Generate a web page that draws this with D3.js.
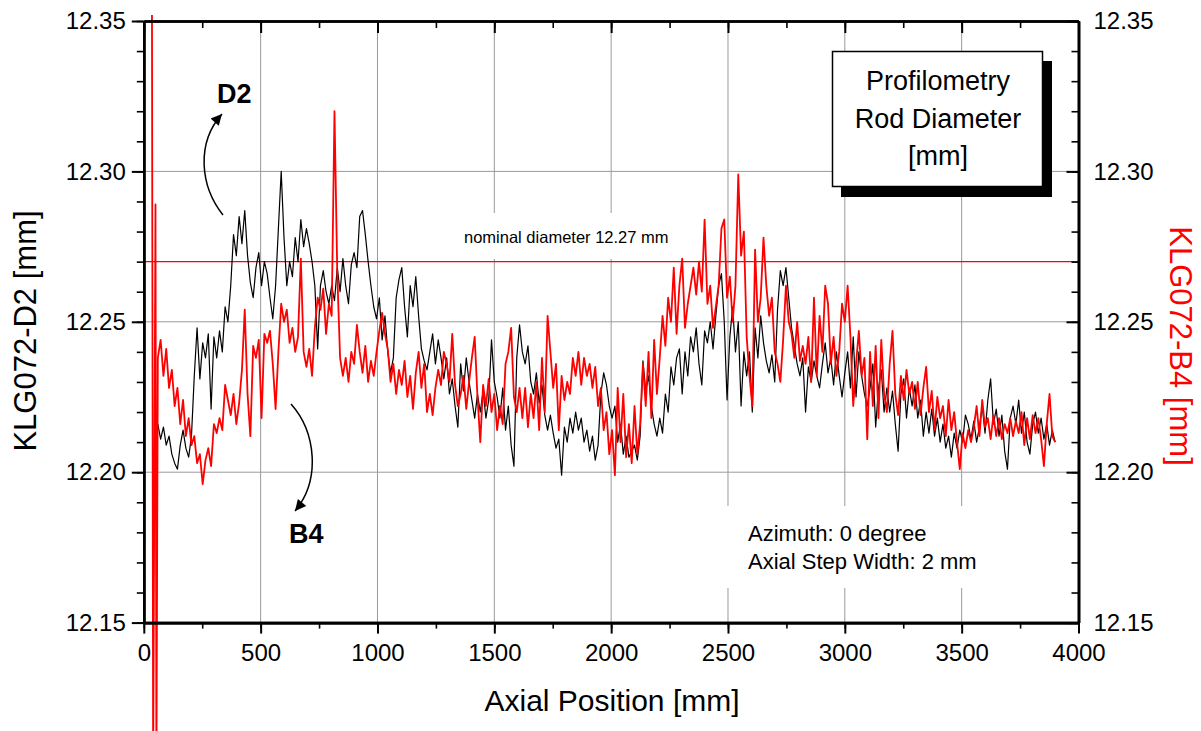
<!DOCTYPE html>
<html><head><meta charset="utf-8">
<script src="https://cdn.jsdelivr.net/npm/d3@7"></script>
<style>
body{margin:0;background:#fff}
svg{display:block}
text{font-family:"Liberation Sans",Arial,Helvetica,sans-serif}
</style>
</head><body>
<svg id="chart" width="1201" height="731"></svg>
<script>
// ---------- data ----------
const xTickValues = [0,500,1000,1500,2000,2500,3000,3500,4000];
const yTickValues = [12.15,12.20,12.25,12.30,12.35];
const nominalDiameter = 12.27;
const startMM = 60;      // first regular sample position
const stepMM = 12;       // sample spacing of the listed values
// KLG072-D2 (black)
const d2Values = [
12.216,12.211,12.215,12.209,12.212,12.206,12.203,12.201,12.209,12.214,
12.208,12.205,12.212,12.232,12.248,12.231,12.243,12.238,12.246,12.221,
12.245,12.238,12.247,12.240,12.255,12.250,12.262,12.279,12.272,12.285,
12.276,12.287,12.272,12.263,12.258,12.268,12.273,12.262,12.270,12.266,
12.258,12.251,12.262,12.281,12.300,12.278,12.262,12.270,12.265,12.278,
12.270,12.284,12.275,12.281,12.276,12.270,12.262,12.241,12.262,12.267,
12.260,12.256,12.262,12.257,12.268,12.260,12.271,12.262,12.256,12.269,
12.273,12.268,12.285,12.287,12.279,12.270,12.262,12.255,12.251,12.258,
12.244,12.252,12.240,12.233,12.238,12.258,12.264,12.268,12.255,12.245,
12.262,12.255,12.265,12.252,12.241,12.237,12.234,12.240,12.246,12.236,
12.244,12.238,12.231,12.238,12.226,12.231,12.222,12.215,12.236,12.227,
12.238,12.230,12.224,12.218,12.226,12.220,12.227,12.218,12.224,12.244,
12.230,12.225,12.218,12.228,12.214,12.222,12.209,12.202,12.238,12.249,
12.240,12.236,12.242,12.230,12.226,12.233,12.223,12.229,12.219,12.214,
12.219,12.213,12.208,12.211,12.199,12.215,12.210,12.218,12.213,12.220,
12.214,12.218,12.210,12.214,12.207,12.212,12.204,12.209,12.226,12.233,
12.229,12.222,12.218,12.222,12.210,12.216,12.206,12.212,12.205,12.207,
12.209,12.204,12.212,12.237,12.227,12.232,12.222,12.216,12.212,12.218,
12.213,12.226,12.220,12.235,12.229,12.238,12.241,12.226,12.240,12.232,
12.245,12.240,12.248,12.236,12.229,12.247,12.243,12.250,12.241,12.252,
12.262,12.266,12.250,12.224,12.245,12.255,12.240,12.250,12.222,12.240,
12.232,12.240,12.220,12.248,12.238,12.252,12.243,12.237,12.233,12.239,
12.230,12.254,12.267,12.262,12.268,12.258,12.248,12.242,12.236,12.232,
12.238,12.220,12.235,12.230,12.237,12.232,12.228,12.236,12.243,12.233,
12.238,12.229,12.240,12.232,12.225,12.233,12.240,12.228,12.245,12.225,
12.240,12.232,12.226,12.222,12.228,12.236,12.215,12.228,12.234,12.220,
12.228,12.220,12.227,12.216,12.207,12.226,12.231,12.218,12.228,12.222,
12.229,12.218,12.224,12.212,12.220,12.213,12.221,12.212,12.218,12.210,
12.216,12.208,12.212,12.205,12.213,12.208,12.214,12.210,12.219,12.216,
12.211,12.217,12.210,12.215,12.222,12.213,12.224,12.231,12.216,12.221,
12.212,12.219,12.207,12.201,12.218,12.222,12.216,12.224,12.213,12.220,
12.210,12.206,12.216,12.220,12.213,12.218,12.211,12.216,12.209,12.214,
12.210
];
// KLG072-B4 (red): start-up spikes, then regular samples
const b4LeadPositions = [35,40,50,54];
const b4LeadValues = [12.352,12.10,12.289,12.10];
const b4Values = [
12.238,12.244,12.232,12.241,12.228,12.234,12.222,12.228,12.216,12.224,
12.212,12.218,12.209,12.212,12.203,12.206,12.196,12.204,12.208,12.202,
12.216,12.213,12.218,12.214,12.229,12.224,12.219,12.226,12.216,12.223,
12.234,12.254,12.226,12.212,12.242,12.238,12.244,12.218,12.246,12.243,
12.247,12.236,12.221,12.240,12.256,12.250,12.254,12.243,12.248,12.240,
12.245,12.271,12.240,12.235,12.241,12.232,12.248,12.258,12.254,12.261,
12.246,12.256,12.252,12.320,12.266,12.238,12.232,12.238,12.230,12.240,
12.236,12.249,12.240,12.233,12.242,12.230,12.237,12.232,12.240,12.247,
12.253,12.246,12.241,12.230,12.236,12.226,12.234,12.229,12.237,12.225,
12.232,12.221,12.233,12.240,12.228,12.236,12.220,12.226,12.219,12.228,
12.234,12.229,12.240,12.236,12.230,12.246,12.229,12.222,12.226,12.232,
12.221,12.230,12.238,12.245,12.225,12.210,12.229,12.222,12.231,12.220,
12.226,12.214,12.222,12.216,12.236,12.240,12.248,12.225,12.220,12.228,
12.218,12.228,12.215,12.226,12.218,12.230,12.214,12.238,12.220,12.252,
12.240,12.228,12.236,12.214,12.232,12.224,12.230,12.226,12.238,12.232,
12.240,12.229,12.238,12.232,12.236,12.228,12.235,12.222,12.228,12.214,
12.220,12.206,12.214,12.199,12.228,12.210,12.226,12.205,12.216,12.203,
12.222,12.206,12.216,12.236,12.222,12.240,12.218,12.244,12.226,12.238,
12.252,12.242,12.258,12.250,12.268,12.246,12.262,12.271,12.248,12.256,
12.262,12.268,12.259,12.270,12.260,12.284,12.256,12.262,12.248,12.255,
12.262,12.281,12.284,12.258,12.265,12.250,12.262,12.299,12.272,12.280,
12.245,12.232,12.222,12.274,12.250,12.258,12.278,12.262,12.252,12.258,
12.240,12.236,12.230,12.244,12.262,12.250,12.246,12.238,12.250,12.237,
12.242,12.236,12.245,12.230,12.258,12.232,12.252,12.240,12.262,12.256,
12.236,12.245,12.232,12.240,12.256,12.250,12.262,12.245,12.222,12.236,
12.247,12.232,12.238,12.211,12.240,12.222,12.242,12.218,12.244,12.226,
12.220,12.236,12.247,12.226,12.219,12.232,12.224,12.234,12.226,12.230,
12.221,12.230,12.219,12.228,12.235,12.220,12.227,12.214,12.225,12.218,
12.222,12.212,12.224,12.214,12.220,12.210,12.201,12.213,12.208,12.214,
12.210,12.215,12.222,12.212,12.224,12.215,12.218,12.211,12.219,12.212,
12.218,12.211,12.216,12.213,12.218,12.212,12.217,12.213,12.220,12.209,
12.218,12.211,12.219,12.213,12.218,12.211,12.202,12.216,12.226,12.212,
12.210
];

// ---------- build ----------
const svg = d3.select("#chart");
const L = 143.8, R = 1078.5, T = 21, B = 622.6;
const x = d3.scaleLinear().domain([0,4000]).range([L,R]);
const y = d3.scaleLinear().domain([12.15,12.35]).range([B,T]);

const d2 = d2Values.map((v,i)=>[startMM+i*stepMM, v]);
const b4 = b4LeadPositions.map((p,i)=>[p,b4LeadValues[i]])
  .concat(b4Values.map((v,i)=>[startMM+i*stepMM, v]));

// grid
const grid = svg.append("g").attr("stroke","#9a9a9a").attr("stroke-width",1);
xTickValues.slice(1,-1).forEach(t=>grid.append("line")
  .attr("x1",x(t)).attr("x2",x(t)).attr("y1",T).attr("y2",B));
yTickValues.slice(1,-1).forEach(t=>grid.append("line")
  .attr("x1",L).attr("x2",R).attr("y1",y(t)).attr("y2",y(t)));

// white label backgrounds that hide grid
svg.append("rect").attr("x",455).attr("y",213).attr("width",224).attr("height",46).attr("fill","#fff");
svg.append("rect").attr("x",718).attr("y",506).attr("width",278).attr("height",82).attr("fill","#fff");

// nominal line
svg.append("line").attr("x1",L).attr("x2",R).attr("y1",y(nominalDiameter)).attr("y2",y(nominalDiameter))
  .attr("stroke","#ff0000").attr("stroke-width",1.2);

const line = d3.line().x(d=>x(d[0])).y(d=>y(d[1]));
svg.append("path").datum(d2).attr("d",line).attr("fill","none")
  .attr("stroke","#000").attr("stroke-width",1.2).attr("stroke-linejoin","round");
svg.append("path").datum(b4).attr("d",line).attr("fill","none")
  .attr("stroke","#ff0000").attr("stroke-width",1.8).attr("stroke-linejoin","round");

// axes
const fmt = d3.format(".2f");
const minorY = d3.range(0,21).map(i=>+(12.15+i*0.01).toFixed(2));
const minorX = d3.range(0,17).map(i=>i*250);
function styleAxis(g, w){
  g.selectAll(".domain").attr("stroke","#000").attr("stroke-width",2.6);
  g.selectAll(".tick line").attr("stroke","#000").attr("stroke-width",w);
  g.selectAll("text").attr("font-size","24px").attr("fill","#000")
    .attr("font-family",'"Liberation Sans",Arial,sans-serif');
}
// bottom
svg.append("g").attr("transform",`translate(0,${B})`)
  .call(d3.axisBottom(x).tickValues(minorX).tickSize(6).tickSizeOuter(0).tickFormat(""))
  .call(g=>styleAxis(g,1.6));
svg.append("g").attr("transform",`translate(0,${B})`)
  .call(d3.axisBottom(x).tickValues(xTickValues).tickSize(11).tickSizeOuter(0).tickPadding(10).tickFormat(d3.format("d")))
  .call(g=>styleAxis(g,2));
// top
svg.append("g").attr("transform",`translate(0,${T})`)
  .call(d3.axisTop(x).tickValues(minorX).tickSize(-7).tickSizeOuter(0).tickFormat(""))
  .call(g=>styleAxis(g,1.6));
svg.append("g").attr("transform",`translate(0,${T})`)
  .call(d3.axisTop(x).tickValues(xTickValues).tickSize(-12).tickSizeOuter(0).tickFormat(""))
  .call(g=>styleAxis(g,2));
// left
svg.append("g").attr("transform",`translate(${L},0)`)
  .call(d3.axisLeft(y).tickValues(minorY).tickSize(7).tickSizeOuter(0).tickFormat(""))
  .call(g=>styleAxis(g,1.6));
svg.append("g").attr("transform",`translate(${L},0)`)
  .call(d3.axisLeft(y).tickValues(yTickValues).tickSize(12).tickSizeOuter(0).tickPadding(6).tickFormat(fmt))
  .call(g=>styleAxis(g,2));
// right
svg.append("g").attr("transform",`translate(${R},0)`)
  .call(d3.axisRight(y).tickValues(minorY).tickSize(-7).tickSizeOuter(0).tickFormat(""))
  .call(g=>styleAxis(g,1.6));
svg.append("g").attr("transform",`translate(${R},0)`)
  .call(d3.axisRight(y).tickValues(yTickValues).tickSize(-12).tickSizeOuter(0).tickPadding(15).tickFormat(fmt))
  .call(g=>styleAxis(g,2));

// axis titles
svg.append("text").attr("x",612).attr("y",711).attr("text-anchor","middle")
  .attr("font-size","30px").text("Axial Position [mm]");
svg.append("text").attr("transform","translate(36,331) rotate(-90)").attr("text-anchor","middle")
  .attr("font-size","31px").text("KLG072-D2 [mm]");
svg.append("text").attr("transform","translate(1170,346) rotate(90)").attr("text-anchor","middle")
  .attr("font-size","31px").attr("fill","#ff0000").text("KLG072-B4 [mm]");

// title box with shadow
svg.append("rect").attr("x",841).attr("y",61).attr("width",211).attr("height",136).attr("fill","#000");
svg.append("rect").attr("x",832.5).attr("y",51.5).attr("width",210).attr("height",135)
  .attr("fill","#fff").attr("stroke","#000").attr("stroke-width",1.5);
[["Profilometry",90],["Rod Diameter",128],["[mm]",165]].forEach(([t,yy])=>
  svg.append("text").attr("x",938).attr("y",yy).attr("text-anchor","middle").attr("font-size","27px").text(t));

// annotations
svg.append("text").attr("x",464).attr("y",243).attr("font-size","16.5px").text("nominal diameter 12.27 mm");
svg.append("text").attr("x",748).attr("y",541).attr("font-size","22px").text("Azimuth: 0 degree");
svg.append("text").attr("x",748).attr("y",569).attr("font-size","22px").text("Axial Step Width: 2 mm");
svg.append("text").attr("x",217).attr("y",103).attr("font-size","27px").attr("font-weight","bold").text("D2");
svg.append("text").attr("x",289).attr("y",543).attr("font-size","27px").attr("font-weight","bold").text("B4");

const defs = svg.append("defs");
defs.append("marker").attr("id","ah").attr("viewBox","0 0 10 10").attr("refX",10).attr("refY",5)
  .attr("markerWidth",15).attr("markerHeight",11).attr("markerUnits","userSpaceOnUse").attr("orient","auto")
  .append("path").attr("d","M0,0 L10,5 L0,10 z").attr("fill","#000");
svg.append("path").attr("d","M223,215 C200,186 196,143 222,114").attr("fill","none")
  .attr("stroke","#000").attr("stroke-width",1.5).attr("marker-end","url(#ah)");
svg.append("path").attr("d","M291,404 C316,432 321,480 295,511").attr("fill","none")
  .attr("stroke","#000").attr("stroke-width",1.5).attr("marker-end","url(#ah)");
</script>
</body></html>
